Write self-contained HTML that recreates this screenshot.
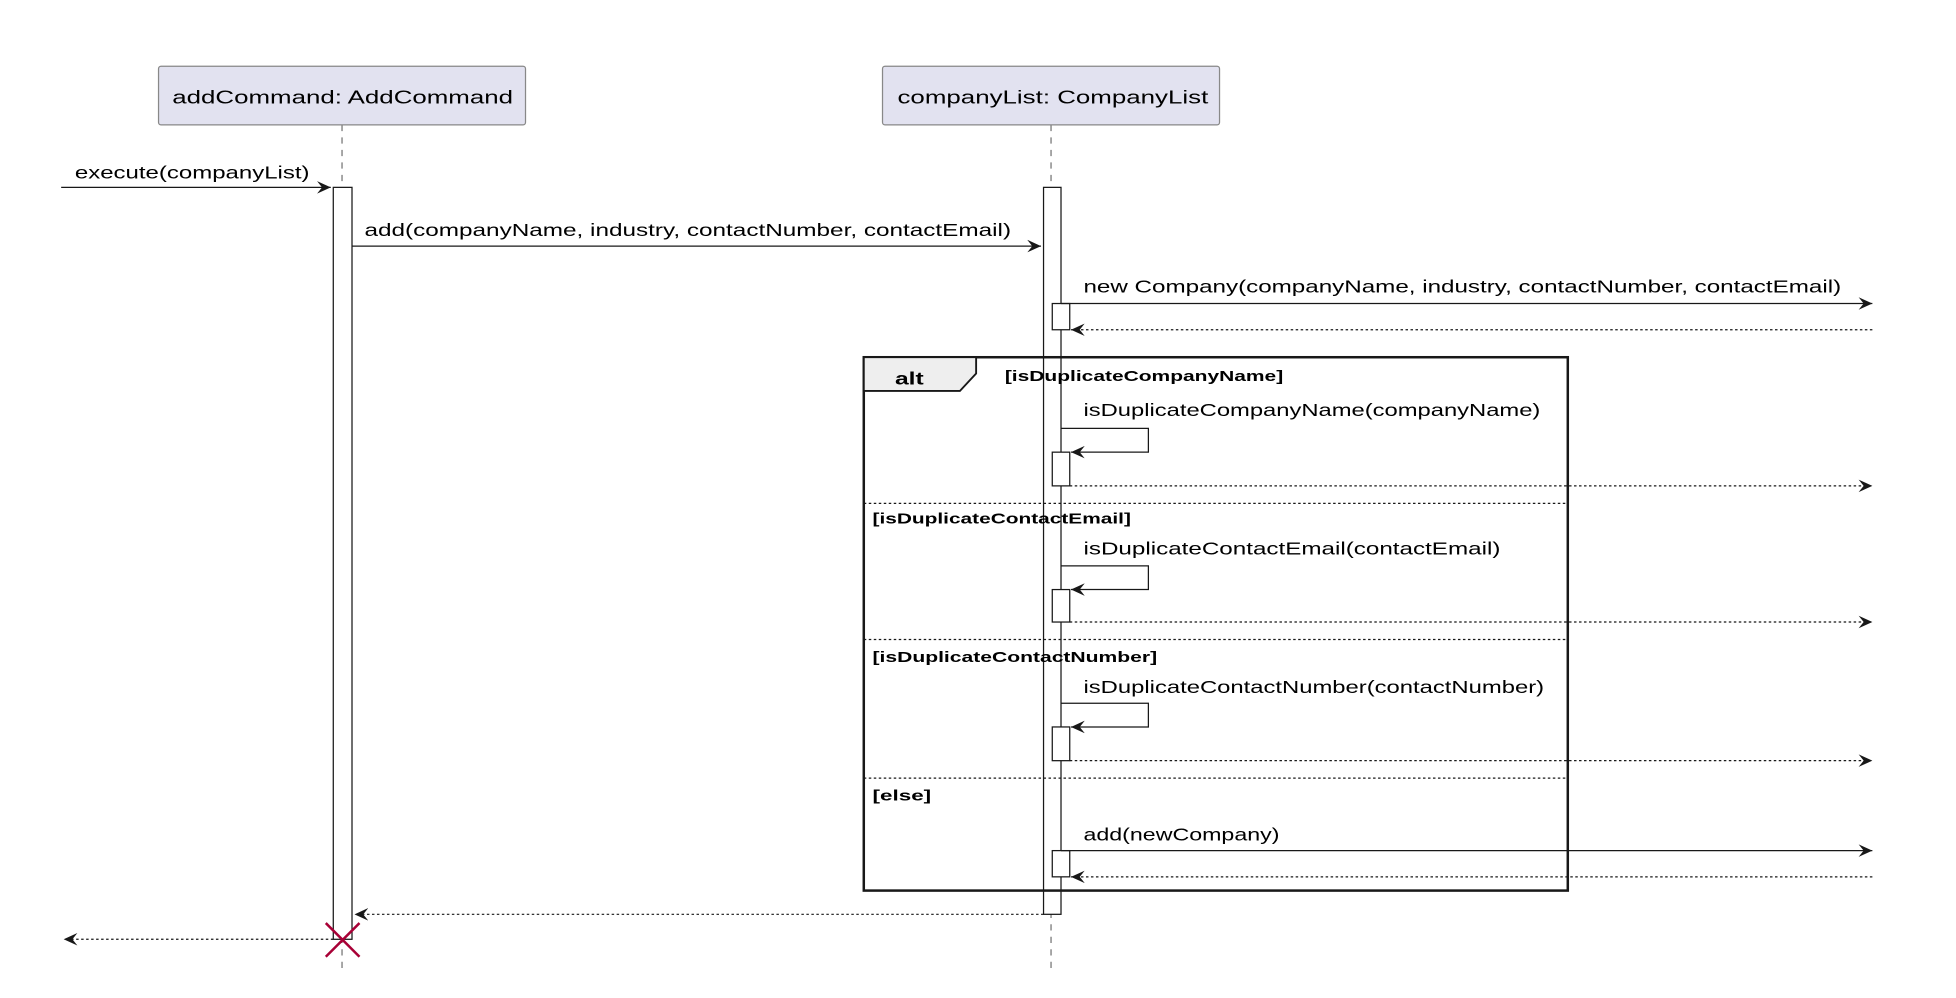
<!DOCTYPE html>
<html><head><meta charset="utf-8"><style>
html,body{margin:0;padding:0;background:#fff;}
svg{display:block;}
text{font-family:"Liberation Sans",sans-serif;fill:#000;}
</style></head><body>
<svg width="1956" height="998" viewBox="0 0 1567 799" preserveAspectRatio="none" xmlns="http://www.w3.org/2000/svg">
<defs>
<marker id="a" markerWidth="12" markerHeight="12" refX="11" refY="6" orient="auto" markerUnits="userSpaceOnUse">
<polygon points="0,1 11,6 0,11 4,6" fill="#181818"/>
</marker>
</defs>
<line x1="274" y1="100" x2="274" y2="776" stroke="#181818" stroke-width="0.6" stroke-dasharray="5,5"/>
<line x1="842" y1="100" x2="842" y2="776" stroke="#181818" stroke-width="0.6" stroke-dasharray="5,5"/>
<rect x="127" y="53" width="294" height="47" rx="2" fill="#E2E2F0" stroke="#888" stroke-width="1"/>
<text x="138" y="83" font-size="15" textLength="273" lengthAdjust="spacingAndGlyphs">addCommand: AddCommand</text>
<rect x="707" y="53" width="270" height="47" rx="2" fill="#E2E2F0" stroke="#888" stroke-width="1"/>
<text x="719" y="83" font-size="15" textLength="249" lengthAdjust="spacingAndGlyphs">companyList: CompanyList</text>
<rect x="267" y="150" width="15" height="602" fill="#fff" stroke="#181818" stroke-width="1"/>
<rect x="836" y="150" width="14" height="582" fill="#fff" stroke="#181818" stroke-width="1"/>
<rect x="692" y="286" width="564" height="427" fill="none" stroke="#181818" stroke-width="2"/>
<polygon points="692,286 782,286 782,299 769,313 692,313" fill="#EEEEEE" stroke="#181818" stroke-width="1.5"/>
<text x="717" y="308" font-size="14" font-weight="bold" textLength="23" lengthAdjust="spacingAndGlyphs">alt</text>
<text x="805" y="305" font-size="12" font-weight="bold" textLength="223" lengthAdjust="spacingAndGlyphs">[isDuplicateCompanyName]</text>
<line x1="692" y1="403" x2="1256" y2="403" stroke="#181818" stroke-width="1" stroke-dasharray="2,2"/>
<text x="699" y="419" font-size="12" font-weight="bold" textLength="207" lengthAdjust="spacingAndGlyphs">[isDuplicateContactEmail]</text>
<line x1="692" y1="512" x2="1256" y2="512" stroke="#181818" stroke-width="1" stroke-dasharray="2,2"/>
<text x="699" y="530" font-size="12" font-weight="bold" textLength="228" lengthAdjust="spacingAndGlyphs">[isDuplicateContactNumber]</text>
<line x1="692" y1="623" x2="1256" y2="623" stroke="#181818" stroke-width="1" stroke-dasharray="2,2"/>
<text x="699" y="641" font-size="12" font-weight="bold" textLength="47" lengthAdjust="spacingAndGlyphs">[else]</text>
<text x="60" y="143" font-size="14" textLength="188" lengthAdjust="spacingAndGlyphs">execute(companyList)</text>
<line x1="49" y1="150" x2="265" y2="150" stroke="#181818" marker-end="url(#a)"/>
<text x="292" y="189" font-size="14" textLength="518" lengthAdjust="spacingAndGlyphs">add(companyName, industry, contactNumber, contactEmail)</text>
<line x1="282" y1="197" x2="834" y2="197" stroke="#181818" marker-end="url(#a)"/>
<text x="868" y="234" font-size="14" textLength="607" lengthAdjust="spacingAndGlyphs">new Company(companyName, industry, contactNumber, contactEmail)</text>
<rect x="843" y="243" width="14" height="21" fill="#fff" stroke="#181818"/>
<line x1="850" y1="243" x2="1500" y2="243" stroke="#181818" marker-end="url(#a)"/>
<line x1="1500" y1="264" x2="858" y2="264" stroke="#181818" stroke-dasharray="2,2" marker-end="url(#a)"/>
<text x="868" y="333" font-size="14" textLength="366" lengthAdjust="spacingAndGlyphs">isDuplicateCompanyName(companyName)</text>
<rect x="843" y="362" width="14" height="27" fill="#fff" stroke="#181818"/>
<polyline points="850,343 920,343 920,362 858,362" fill="none" stroke="#181818" marker-end="url(#a)"/>
<line x1="857" y1="389" x2="1500" y2="389" stroke="#181818" stroke-dasharray="2,2" marker-end="url(#a)"/>
<text x="868" y="444" font-size="14" textLength="334" lengthAdjust="spacingAndGlyphs">isDuplicateContactEmail(contactEmail)</text>
<rect x="843" y="472" width="14" height="26" fill="#fff" stroke="#181818"/>
<polyline points="850,453 920,453 920,472 858,472" fill="none" stroke="#181818" marker-end="url(#a)"/>
<line x1="857" y1="498" x2="1500" y2="498" stroke="#181818" stroke-dasharray="2,2" marker-end="url(#a)"/>
<text x="868" y="555" font-size="14" textLength="369" lengthAdjust="spacingAndGlyphs">isDuplicateContactNumber(contactNumber)</text>
<rect x="843" y="582" width="14" height="27" fill="#fff" stroke="#181818"/>
<polyline points="850,563 920,563 920,582 858,582" fill="none" stroke="#181818" marker-end="url(#a)"/>
<line x1="857" y1="609" x2="1500" y2="609" stroke="#181818" stroke-dasharray="2,2" marker-end="url(#a)"/>
<text x="868" y="673" font-size="14" textLength="157" lengthAdjust="spacingAndGlyphs">add(newCompany)</text>
<rect x="843" y="681" width="14" height="21" fill="#fff" stroke="#181818"/>
<line x1="850" y1="681" x2="1500" y2="681" stroke="#181818" marker-end="url(#a)"/>
<line x1="1500" y1="702" x2="858" y2="702" stroke="#181818" stroke-dasharray="2,2" marker-end="url(#a)"/>
<line x1="836" y1="732" x2="284" y2="732" stroke="#181818" stroke-dasharray="2,2" marker-end="url(#a)"/>
<line x1="267" y1="752" x2="51" y2="752" stroke="#181818" stroke-dasharray="2,2" marker-end="url(#a)"/>
<line x1="261" y1="739" x2="288" y2="766" stroke="#A80036" stroke-width="2"/>
<line x1="288" y1="739" x2="261" y2="766" stroke="#A80036" stroke-width="2"/>
</svg>
</body></html>
